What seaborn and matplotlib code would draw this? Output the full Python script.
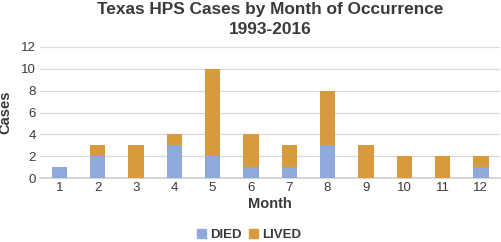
import matplotlib
matplotlib.use("Agg")
import matplotlib.pyplot as plt
import seaborn as sns
import pandas as pd
import numpy as np
from matplotlib.patches import Patch

months = [str(m) for m in range(1, 13)]
died = [1, 2, 0, 3, 2, 1, 1, 3, 0, 0, 0, 1]
lived = [0, 1, 3, 1, 8, 3, 2, 5, 3, 2, 2, 1]

sns.set_theme(style="white")
plt.rcParams['font.family'] = ['Liberation Sans', 'DejaVu Sans']

blue = "#8eaadb"
orange = "#d99a3e"
txt = "#3a3a3a"

df = pd.DataFrame({"Month": months, "DIED": died, "LIVED": lived})
df["TOTAL"] = df["DIED"] + df["LIVED"]

fig = plt.figure(figsize=(5.01, 2.42), dpi=100)
ax = fig.add_axes([0.08, 0.264, 0.918, 0.542])

sns.barplot(data=df, x="Month", y="TOTAL", color=orange, width=0.4,
            saturation=1, ax=ax, zorder=3, linewidth=0, edgecolor="none")
sns.barplot(data=df, x="Month", y="DIED", color=blue, width=0.4,
            saturation=1, ax=ax, zorder=4, linewidth=0, edgecolor="none")

ax.set_ylim(0, 12)
ax.set_xlim(-0.5, 11.5)
ax.set_yticks(range(0, 13, 2))
ax.yaxis.grid(True, color="#d9d9d9", linewidth=0.9, zorder=0)
for s in ["top", "right", "left"]:
    ax.spines[s].set_visible(False)
ax.spines["bottom"].set_color("#d0d0d0")
ax.tick_params(axis="both", length=0, labelsize=9.5, colors=txt, pad=3)

ax.set_xlabel("Month", fontsize=10.5, fontweight="bold", color=txt, labelpad=2)
ax.set_ylabel("Cases", fontsize=10.5, fontweight="bold", color=txt, labelpad=6)

fig.suptitle("Texas HPS Cases by Month of Occurrence\n1993-2016", x=0.54, y=0.99,
             fontsize=12.4, fontweight="bold", color=txt, linespacing=1.35)

handles = [Patch(color=blue, label="DIED"), Patch(color=orange, label="LIVED")]
fig.legend(handles=handles, loc="lower center", bbox_to_anchor=(0.497, -0.045), ncol=2,
           frameon=False, prop={"size": 9.5, "weight": "bold"}, handlelength=0.7,
           handleheight=0.7, handletextpad=0.3, columnspacing=0.5, labelcolor=txt)

fig.savefig("out.png", dpi=100)
